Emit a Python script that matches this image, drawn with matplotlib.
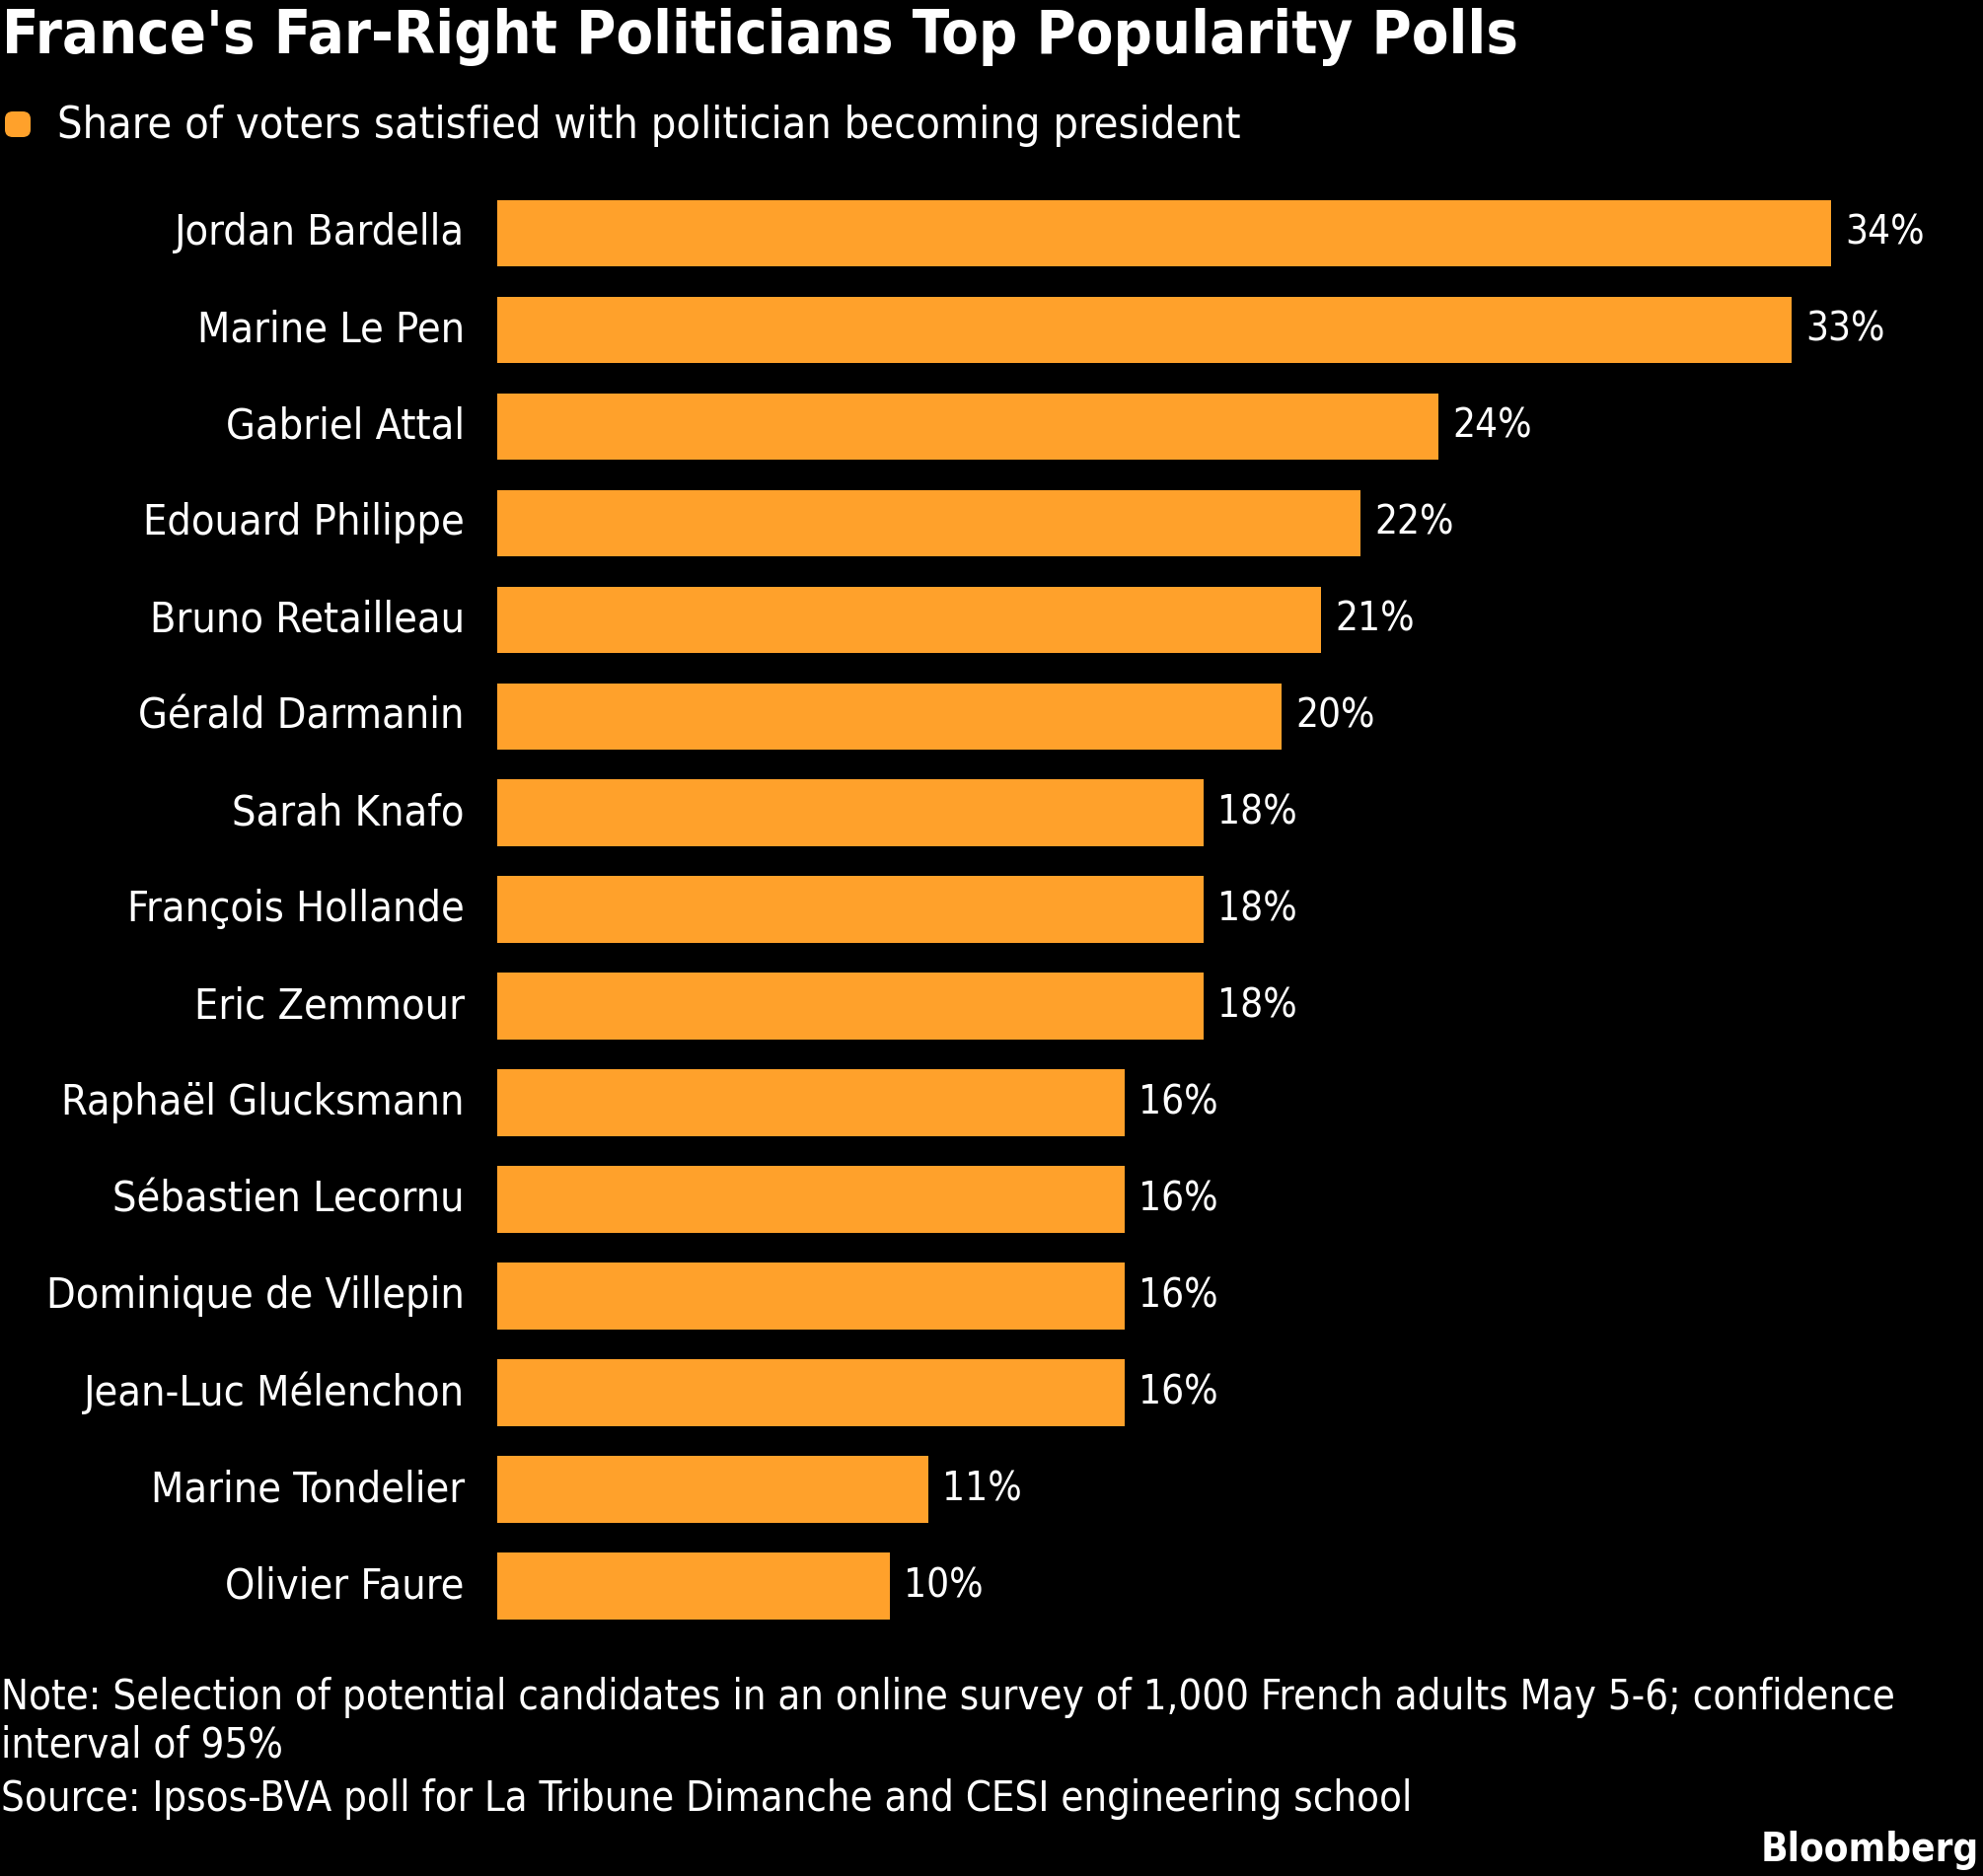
import matplotlib
matplotlib.use("Agg")
import matplotlib.pyplot as plt
from matplotlib import font_manager as fm
from matplotlib.patches import FancyBboxPatch

# ---- data ----
politicians = ["Jordan Bardella", "Marine Le Pen", "Gabriel Attal", "Edouard Philippe",
               "Bruno Retailleau", "Gérald Darmanin", "Sarah Knafo", "François Hollande",
               "Eric Zemmour", "Raphaël Glucksmann", "Sébastien Lecornu",
               "Dominique de Villepin", "Jean-Luc Mélenchon", "Marine Tondelier",
               "Olivier Faure"]
shares = [34, 33, 24, 22, 21, 20, 18, 18, 18, 16, 16, 16, 16, 11, 10]
value_labels = [f"{v}%" for v in shares]

title = "France's Far-Right Politicians Top Popularity Polls"
legend_label = "Share of voters satisfied with politician becoming president"
note_lines = ["Note: Selection of potential candidates in an online survey of 1,000 French adults May 5-6; confidence",
              "interval of 95%"]
source = "Source: Ipsos-BVA poll for La Tribune Dimanche and CESI engineering school"
brand = "Bloomberg"

BAR = "#FFA12B"
BG = "#000000"

# ---- fonts ----
def pick_font(bold):
    files = {f.fname.split("/")[-1]: f.fname for f in fm.fontManager.ttflist}
    cands = (["DejaVuSansCondensed-Bold.ttf", "LiberationSansNarrow-Bold.ttf"] if bold
             else ["DejaVuSansCondensed.ttf", "LiberationSansNarrow-Regular.ttf"])
    for c in cands:
        if c in files:
            return fm.FontProperties(fname=files[c]), 1.0
    return fm.FontProperties(family="DejaVu Sans", weight="bold" if bold else "normal"), 0.9

reg, sreg = pick_font(False)
bld, sbld = pick_font(True)

W, H = 2010, 1902
fig = plt.figure(figsize=(W / 100, H / 100), dpi=100, facecolor=BG)

def fy(px):
    return 1 - px / H

def fx(px):
    return px / W

# axes geometry (pixels)
left_px = 504
unit_px = 39.77
top_px, bot_px = 187.5, 1657
ax = fig.add_axes([fx(left_px), fy(bot_px), 1 - fx(left_px), (bot_px - top_px) / H])
ax.set_facecolor(BG)
n = len(politicians)
ypos = list(range(n))
ax.barh(ypos, shares, height=0.69, color=BAR, edgecolor="none")
ax.set_xlim(0, (W - left_px) / unit_px)
ax.set_ylim(n - 0.5, -0.5)
for s in ax.spines.values():
    s.set_visible(False)
ax.set_xticks([])
ax.set_yticks(ypos)
ax.set_yticklabels(politicians, fontproperties=reg, fontsize=31 * sreg, color="white")
for lab in ax.get_yticklabels():
    lab.set_va("center")
ax.tick_params(axis="y", length=0, pad=24)
for yv, v, lab in zip(ypos, shares, value_labels):
    ax.annotate(lab, (v, yv), xytext=(14, 0), textcoords="offset pixels",
                va="center", ha="left", color="white", fontproperties=reg, fontsize=29 * sreg)

# title & legend
fig.text(fx(2), fy(54), title, fontproperties=bld, fontsize=44 * sbld, color="white", va="baseline", ha="left")
fig.patches.append(FancyBboxPatch((fx(5), fy(139)), fx(26), 26 / H,
                                  boxstyle="round,pad=0.0,rounding_size=0.004",
                                  transform=fig.transFigure, facecolor=BAR, edgecolor="none"))
fig.text(fx(58), fy(140), legend_label, fontproperties=reg, fontsize=32.3 * sreg, color="white",
         va="baseline", ha="left")

# footer
fig.text(fx(1), fy(1733), note_lines[0], fontproperties=reg, fontsize=30 * sreg, color="white", va="baseline")
fig.text(fx(1), fy(1782), note_lines[1], fontproperties=reg, fontsize=30 * sreg, color="white", va="baseline")
fig.text(fx(1), fy(1836), source, fontproperties=reg, fontsize=30 * sreg, color="white", va="baseline")
fig.text(fx(2006), fy(1887), brand, fontproperties=bld, fontsize=29 * sbld, color="white",
         va="baseline", ha="right")

fig.savefig("out.png", dpi=100, facecolor=BG)
